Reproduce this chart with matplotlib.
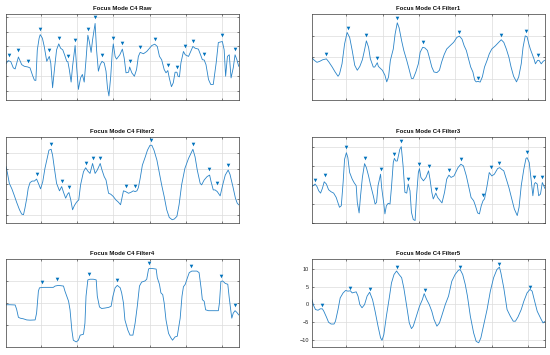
import matplotlib
matplotlib.use("Agg")
import matplotlib.pyplot as plt

plt.rcParams['font.family'] = ['Liberation Sans', 'DejaVu Sans']

'''
Data read from the reference (x = sample index)
'''
raw_x = [5, 11, 18, 25, 30, 39, 48, 55, 65, 71, 78, 83, 87, 91, 96, 99, 105, 110, 117, 124,
         128, 133, 139, 144, 150, 155, 161, 166, 172, 175, 179, 184, 188, 195, 199, 204, 210,
         215, 220, 225, 230, 234, 239, 243, 250, 254, 259, 264, 269, 275, 280, 284, 288, 293,
         297, 300, 305, 309, 318, 325, 330, 335, 342, 345, 351, 358, 364, 369, 374, 383, 392,
         406, 414, 421, 427, 433, 440, 445, 450, 454, 460, 465, 470, 475, 478, 482, 486, 493,
         498, 507, 513, 519, 525, 534, 541, 545, 550, 555, 562, 568, 575, 583, 589, 600, 605,
         609, 614, 619, 624, 630, 635, 640, 645]
raw_y = [-1.5, 0.5, -0.2, -4.4, -5.1, 2.9, -2.2, -3.3, -3.8, -4.4, -9.5, -12.6, -12.8, 7.7,
         15.5, 17.9, 15.5, 10.0, 0.0, 3.3, -1.1, -17.7, -3.3, 7.7, 11.7, 8.8, 7.7, 4.4, 0.0,
         -0.2, -5.5, -13.9, -3.3, 10.6, -3.3, -18.8, -11.1, -8.8, -13.9, 1.1, 17.5, 13.3, 6.0,
         14.4, 25.4, 7.7, -6.6, -2.2, 0.0, -1.1, -6.6, -17.7, -23.2, -10.0, 5.5, 11.7, 3.3,
         1.5, 4.4, 8.2, 2.2, -7.7, -7.3, -3.8, -7.7, -10.0, -5.5, 3.3, 6.0, 5.1, 6.6, 10.6,
         11.5, 10.0, 3.3, 1.1, -5.5, -7.7, -6.2, -11.1, -17.0, -14.4, -7.3, -7.3, -10.0, -10.4,
         -1.1, 6.6, 4.4, 3.3, 6.6, 10.0, 8.8, 8.2, 3.8, 1.1, 0.9, -2.2, -12.2, -15.5, -15.5,
         -1.1, 12.6, 13.3, 7.7, -10.0, 3.3, 4.4, -11.1, -4.4, 4.4, 1.1, -3.3]
raw_pk_x = [14, 39, 65, 99, 124, 150, 175, 195, 230, 250, 269, 300, 325, 345, 374, 414,
            450, 475, 496, 519, 550, 600, 635]
raw_pk_y = [4.0, 7.3, 0.2, 21.9, 7.3, 15.5, 3.5, 14.6, 21.7, 29.6, 4.0, 15.9, 12.2, 0.2,
            9.5, 15.3, -2.4, -3.5, 10.6, 13.9, 4.6, 17.7, 8.4]

f1_x = [5, 12, 19, 26, 35, 45, 52, 61, 69, 77, 81, 88, 95, 102, 109, 116, 123, 130, 137, 144,
        150, 155, 161, 166, 174, 178, 185, 188, 194, 199, 206, 211, 216, 221, 229, 234, 240,
        245, 252, 258, 266, 272, 279, 284, 291, 298, 303, 310, 316, 323, 328, 335, 341, 349,
        356, 362, 369, 376, 385, 395, 404, 411, 418, 424, 430, 436, 442, 448, 453, 457, 462,
        468, 474, 480, 487, 493, 500, 510, 519, 526, 533, 540, 547, 553, 560, 568, 574, 581,
        586, 592, 597, 602, 606, 611, 616, 620, 626, 630, 636, 641, 645]
f1_y = [-0.3, -1.5, -2.4, -2.0, -1.2, -0.8, -2.3, -4.6, -6.9, -8.9, -7.9, -3.1, 6.1, 11.5,
        9.2, 3.1, -3.8, -6.1, -4.3, -1.2, 3.4, 7.6, 4.6, -0.8, -4.6, -4.6, -2.6, -4.3, -5.3,
        -6.1, -8.4, -11.5, -9.2, -1.5, 3.8, 10.7, 16.0, 13.7, 7.6, 3.1, -1.5, -5.3, -9.9,
        -9.9, -6.9, -3.1, 2.3, 4.6, 4.3, 3.1, 0.0, -4.6, -6.9, -7.2, -6.1, -2.3, 1.2, 3.8,
        5.3, 6.9, 9.2, 9.8, 8.4, 5.3, 3.1, -0.8, -4.6, -6.9, -10.7, -11.5, -11.3, -11.6,
        -9.2, -4.6, -1.5, 1.5, 3.8, 5.3, 6.9, 8.1, 6.9, 3.8, 0.0, -4.6, -8.9, -11.5, -9.2,
        -3.1, 4.6, 9.9, 9.5, 6.1, 3.8, 1.5, -0.8, -3.1, -1.5, -1.5, -3.1, -2.0, -1.5]
f1_pk_x = [45, 104, 154, 185, 239, 310, 411, 462, 526, 593, 627]
f1_pk_y = [1.5, 13.7, 10.1, -0.3, 18.3, 6.9, 11.8, -9.5, 10.4, 12.2, 1.1]

f2_x = [5, 9, 14, 21, 27, 34, 42, 48, 53, 57, 62, 66, 71, 77, 83, 89, 94, 100, 106, 112, 119,
        123, 129, 133, 138, 144, 152, 158, 163, 169, 174, 178, 183, 188, 193, 199, 205, 210,
        218, 224, 230, 236, 243, 250, 256, 264, 269, 275, 280, 287, 293, 300, 307, 314, 320,
        328, 334, 342, 349, 355, 360, 365, 369, 374, 380, 388, 394, 401, 406, 412, 420, 427,
        433, 440, 447, 454, 462, 468, 475, 481, 488, 497, 507, 519, 525, 531, 539, 543, 550,
        558, 565, 569, 575, 580, 586, 594, 601, 608, 616, 621, 629, 636, 641, 645]
f2_y = [11.3, 6.9, 0.4, -3.2, -7.1, -11.9, -16.9, -19.7, -20.1, -15.8, -9.3, -2.8, 0.9, 1.9,
        1.9, 3.2, 0.4, -3.2, 1.5, 10.2, 17.7, 22.1, 22.7, 18.8, 10.2, 0.4, -4.5, -1.7, -5.4,
        -9.3, -6.7, -5.6, -10.4, -16.9, -14.1, -11.9, -10.4, -0.6, 8.0, 10.6, 8.4, 6.9, 13.4,
        6.9, 9.1, 13.4, 9.1, 4.8, 2.6, -6.1, -6.7, -8.2, -10.4, -11.9, -13.6, -4.5, -5.0,
        -6.1, -5.4, -4.5, -5.0, -4.5, -2.4, 3.7, 12.3, 17.7, 22.1, 25.3, 25.3, 22.1, 15.6,
        6.9, -0.6, -8.2, -16.9, -21.9, -23.4, -22.9, -21.2, -13.6, -0.6, 10.2, 16.7, 22.7,
        17.7, 9.1, 0.4, -0.6, 2.6, 4.8, 5.8, 1.5, -3.9, -3.9, -5.0, -7.8, -0.6, 5.8, 9.1,
        6.3, -1.7, -9.3, -12.6, -13.6]
f2_pk_x = [89, 129, 158, 178, 224, 243, 264, 334, 360, 405, 519, 564, 584, 616]
f2_pk_y = [6.5, 26.0, 2.2, -2.2, 13.4, 17.1, 17.1, -1.1, -1.3, 29.0, 26.0, 9.7, 0.4, 12.3]

f3_x = [5, 10, 14, 19, 24, 29, 34, 39, 45, 51, 58, 65, 72, 77, 81, 86, 91, 95, 100, 104, 109,
        116, 121, 127, 130, 135, 139, 144, 150, 155, 161, 166, 174, 179, 183, 187, 194, 197,
        203, 206, 210, 215, 220, 224, 229, 232, 236, 240, 247, 251, 256, 261, 266, 270, 275,
        279, 284, 289, 293, 298, 301, 305, 312, 319, 326, 330, 335, 339, 346, 351, 358, 363,
        370, 376, 382, 388, 396, 407, 415, 422, 430, 437, 443, 450, 455, 461, 466, 471, 476,
        480, 487, 493, 500, 507, 516, 522, 527, 533, 540, 547, 555, 562, 570, 575, 581, 588,
        594, 597, 603, 608, 613, 617, 620, 625, 629, 634, 639, 643, 646]
f3_y = [-0.9, -0.2, 0.4, -0.9, -3.2, -4.4, -1.9, 1.6, 0.4, -2.6, -3.7, -4.4, -6.7, -9.6,
        -11.9, -11.1, 1.2, 13.5, 17.0, 14.4, 6.5, 3.0, 1.2, -0.5, -9.3, -14.9, -5.8, 3.9,
        11.2, 9.1, 4.7, 0.4, -5.8, -10.2, -9.3, -0.5, 5.6, -1.4, -10.2, -15.4, -11.1, -9.8,
        -10.2, -1.4, 11.8, 14.0, 12.6, 12.6, 18.8, 20.2, 10.0, -4.0, -4.4, 0.4, -3.2, -14.6,
        -18.4, -18.9, -5.8, 6.5, 8.6, 3.9, 2.1, 3.9, 7.4, 3.0, -4.0, -7.5, -4.4, -6.7, -8.4,
        -9.6, -4.0, 3.0, 5.1, 3.9, 4.7, 9.1, 10.9, 10.0, 4.7, -1.4, -6.7, -8.4, -11.1, -14.9,
        -15.4, -11.1, -8.4, -7.5, -0.5, 6.5, 4.7, 5.6, 8.6, 9.1, 8.2, 7.4, 3.0, -1.4, -7.5,
        -12.8, -16.3, -11.9, -0.5, 8.2, 13.9, 14.4, 11.8, 3.0, -5.8, 0.4, 1.2, 0.4, -5.8,
        -4.9, 1.2, -0.5, -1.9]
f3_pk_x = [14, 40, 100, 150, 195, 231, 250, 270, 301, 326, 346, 382, 415, 476, 497, 521,
           597, 617, 639]
f3_pk_y = [2.6, 5.1, 19.8, 14.0, 8.6, 16.5, 23.2, 3.0, 11.2, 10.0, -2.3, 7.7, 13.9, -5.3,
           9.3, 11.8, 17.4, 3.9, 3.9]

f4_x = [5, 16, 30, 34, 39, 44, 53, 62, 71, 85, 89, 94, 97, 108, 121, 135, 140, 149, 163, 167,
        172, 177, 181, 186, 190, 198, 204, 209, 218, 222, 225, 230, 236, 245, 253, 256, 262,
        268, 277, 287, 294, 299, 305, 311, 319, 323, 328, 332, 340, 346, 354, 360, 366, 372,
        378, 387, 392, 397, 399, 406, 418, 421, 427, 431, 436, 440, 445, 452, 458, 463, 470,
        476, 484, 489, 493, 498, 504, 509, 516, 530, 536, 542, 545, 550, 554, 562, 575, 589,
        592, 596, 601, 608, 615, 619, 623, 626, 630, 635, 640, 645]
f4_y = [-0.8, -0.8, -0.9, -2.8, -6.5, -6.9, -7.2, -7.7, -7.8, -7.7, -4.6, 5.4, 6.9, 7.1, 7.1,
        7.1, 7.7, 8.0, 7.7, 5.4, 3.1, 0.8, -3.1, -12.3, -16.9, -17.7, -16.9, -14.6, -14.2,
        -9.2, 3.1, 10.5, 10.8, 10.8, 10.5, 3.1, -1.8, -2.5, -2.3, -2.0, -1.5, 3.1, 6.9, 8.0,
        6.9, 4.6, 0.0, -7.7, -12.3, -14.6, -14.6, -9.2, -1.5, 7.7, 9.5, 10.0, 10.8, 15.4,
        15.7, 15.7, 15.4, 11.5, 8.5, 4.6, 3.8, 0.0, -7.7, -13.8, -15.7, -16.9, -15.4, -15.1,
        -6.9, 3.1, 7.4, 8.5, 11.5, 13.8, 14.5, 14.5, 13.8, 6.2, 1.5, 0.8, -3.1, -3.5, -3.5,
        -3.5, 0.0, 9.8, 10.0, 8.9, 8.5, 2.3, -3.1, -6.9, -4.6, -3.5, -4.3, -5.4]
f4_pk_x = [103, 144, 234, 309, 399, 515, 596, 635]
f4_pk_y = [9.7, 10.8, 13.1, 10.5, 18.2, 16.9, 12.3, -1.1]

f5_x = [5, 10, 15, 22, 28, 34, 38, 45, 51, 58, 66, 70, 77, 83, 91, 98, 104, 111, 116, 123,
        127, 132, 137, 143, 150, 157, 164, 172, 179, 187, 194, 198, 203, 210, 218, 224, 231,
        238, 245, 252, 258, 266, 273, 279, 284, 291, 301, 309, 314, 321, 328, 335, 341, 349,
        356, 362, 372, 381, 390, 399, 408, 413, 420, 427, 433, 441, 450, 457, 464, 470, 477,
        487, 496, 505, 514, 521, 525, 533, 542, 551, 559, 565, 572, 581, 588, 597, 605, 611,
        618, 625, 634, 641, 645]
f5_y = [1.3, -0.4, -1.5, -1.7, -1.3, -1.3, -2.0, -3.6, -5.1, -5.6, -5.6, -4.8, -1.5, 1.8,
        3.2, 3.9, 3.7, 3.8, 3.2, 3.4, 3.5, 2.3, -0.1, -1.0, -0.1, 2.3, 3.4, 1.3, -2.0, -6.2,
        -9.5, -10.2, -8.6, -3.4, 1.8, 6.0, 8.4, 9.4, 8.4, 7.5, 4.6, -0.6, -5.3, -6.9, -6.2,
        -3.9, -0.6, 1.3, 3.0, 1.3, -0.1, -2.0, -4.3, -6.2, -5.3, -3.4, -0.1, 2.3, 6.5, 8.4,
        9.6, 9.8, 8.4, 5.6, 2.3, -3.4, -8.1, -10.5, -10.9, -9.5, -6.2, -1.5, 3.7, 7.5, 9.8,
        10.5, 8.9, 4.6, -1.5, -3.4, -4.8, -4.8, -3.6, -1.5, 0.8, 3.2, 4.2, 3.7, 0.8, -2.0,
        -3.9, -5.3, -4.9]
f5_pk_x = [34, 111, 165, 240, 315, 413, 521, 606]
f5_pk_y = [-0.2, 4.7, 4.3, 10.4, 3.9, 10.6, 11.3, 4.9]

titles = ['Focus Mode C4 Raw', 'Focus Mode C4 Filter1', 'Focus Mode C4 Filter2',
          'Focus Mode C4 Filter3', 'Focus Mode C4 Filter4', 'Focus Mode C4 Filter5']
series = [(raw_x, raw_y, raw_pk_x, raw_pk_y), (f1_x, f1_y, f1_pk_x, f1_pk_y),
          (f2_x, f2_y, f2_pk_x, f2_pk_y), (f3_x, f3_y, f3_pk_x, f3_pk_y),
          (f4_x, f4_y, f4_pk_x, f4_pk_y), (f5_x, f5_y, f5_pk_x, f5_pk_y)]
ylims = [(-26, 31.6), (-20, 20), (-25.5, 30.7), (-20.2, 25.3), (-20, 20), (-12.1, 12.8)]
yticks = [[-20, -10, 0, 10, 20, 30], [-10, 0, 10], [-20, -10, 0, 10, 20],
          [-20, -10, 0, 10, 20], [-10, 0, 10], [-10, -5, 0, 5, 10]]
xticks = [100, 200, 300, 400, 500, 600]

# axes boxes in figure fractions: left, bottom, width, height
lefts = [0.011, 0.567]
rows = [(0.718, 0.242), (0.372, 0.242), (0.0225, 0.248)]

blue = '#0072BD'
fig = plt.figure(figsize=(5.5, 3.55), dpi=100)

for i in range(6):
    r, c = divmod(i, 2)
    ax = fig.add_axes([lefts[c], rows[r][0], 0.423, rows[r][1]])
    x, y, px, py = series[i]
    ax.plot(x, y, color='#2a84c8', lw=0.6)
    ax.plot(px, py, 'v', color=blue, ms=2.6, mew=0)
    ax.set_xlim(5, 645)
    ax.set_ylim(*ylims[i])
    ax.set_xticks(xticks)
    ax.set_yticks(yticks[i])
    ax.grid(True, color='#dcdcdc', lw=0.5)
    ax.set_axisbelow(True)
    ax.tick_params(direction='in', length=1.5, width=0.4, colors='#262626',
                   top=True, right=True, labelsize=4, pad=2)
    ax.set_xticklabels([])
    if i != 5:
        ax.set_yticklabels([])
    for s in ax.spines.values():
        s.set_linewidth(0.5)
        s.set_color('#3a3a3a')
    ax.set_title(titles[i], fontsize=4.3, fontweight='bold', pad=3, color='#111111')

fig.savefig('out.png', dpi=100)
